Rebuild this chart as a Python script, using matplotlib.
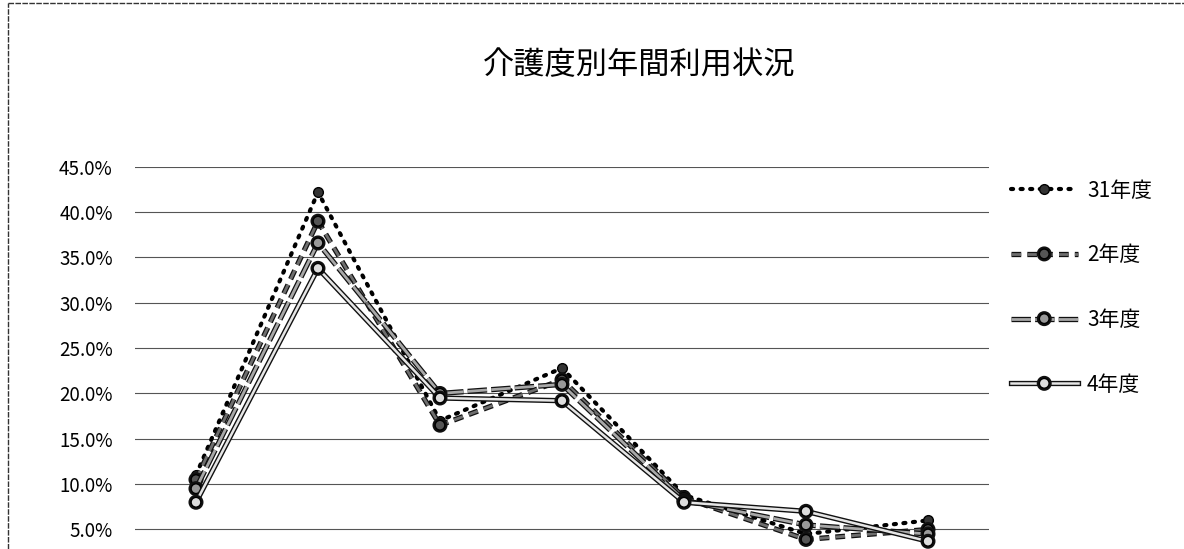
# -*- coding: utf-8 -*-
"""
介護度別年間利用状況 の折れ線グラフ
"""
import matplotlib
matplotlib.use('Agg')
import matplotlib.pyplot as plt
import matplotlib.patheffects as pe
from matplotlib.ticker import FuncFormatter

plt.rcParams['font.family'] = ['Noto Sans CJK JP', 'DejaVu Sans']

title = '介護度別年間利用状況'
categories = ['要支援1', '要支援2', '要介護1', '要介護2', '要介護3', '要介護4', '要介護5']
years = ['31年度', '2年度', '3年度', '4年度']
v31 = [11.0, 42.2, 17.0, 22.8, 8.8, 4.5, 6.0]
v2 = [10.5, 39.0, 16.5, 21.5, 8.5, 3.9, 5.0]
v3 = [9.5, 36.6, 20.0, 21.0, 8.2, 5.5, 4.5]
v4 = [8.0, 33.8, 19.5, 19.2, 8.0, 7.0, 3.7]
y_ticks = [5, 10, 15, 20, 25, 30, 35, 40, 45]

fig = plt.figure(figsize=(11.84, 5.49), dpi=100)
# 元画像は下が切れているので軸を図の外まで伸ばす（横軸ラベルは写っていない）
ax = fig.add_axes([0.114, -0.047, 0.7213, 0.7432])

x = list(range(len(categories)))
outline = [pe.Stroke(linewidth=3.8, foreground='#111111'), pe.Normal()]

ax.plot(x, v31, color='black', linestyle=(0, (0.5, 1.8)), linewidth=3.0,
        dash_capstyle='round', marker='o', markersize=7,
        markerfacecolor='#333333', markeredgecolor='black', label=years[0])
ax.plot(x, v2, color='#6e6e6e', linestyle=(0, (3.5, 2.2)), linewidth=2.0,
        marker='o', markersize=7, markerfacecolor='#555555',
        markeredgecolor='black', path_effects=outline, label=years[1])
ax.plot(x, v3, color='#a8a8a8', linestyle=(0, (7, 1.5)), linewidth=2.0,
        marker='o', markersize=7, markerfacecolor='#999999',
        markeredgecolor='black', path_effects=outline, label=years[2])
ax.plot(x, v4, color='#e6e6e6', linestyle='-', linewidth=1.8,
        marker='o', markersize=7, markerfacecolor='#dddddd',
        markeredgecolor='black', path_effects=outline, label=years[3])

ax.set_xlim(-0.5, len(categories) - 0.5)
ax.set_ylim(0, 45)
ax.set_yticks(y_ticks)
ax.yaxis.set_major_formatter(FuncFormatter(lambda v, p: f'{v:.1f}%'))
ax.set_xticks(x)
ax.tick_params(axis='x', labelbottom=False, length=0)
ax.tick_params(axis='y', length=0, labelsize=13.5, pad=16)
ax.grid(axis='y', color='#555555', linewidth=0.8)
ax.set_axisbelow(True)
for s in ax.spines.values():
    s.set_visible(False)

fig.text(0.540, 0.882, title, ha='center', va='center', fontsize=22.5)

fig.legend(loc='upper left', bbox_to_anchor=(0.845, 0.692), frameon=False,
           fontsize=15, handlelength=3.2, handletextpad=0.45,
           labelspacing=2.05, borderpad=0)

# 枠線
fig.add_artist(plt.Line2D([8 / 1184, 8 / 1184], [0, 1 - 3 / 549],
                          transform=fig.transFigure, color='#333333',
                          linewidth=1, linestyle=(0, (4, 1))))
fig.add_artist(plt.Line2D([8 / 1184, 1], [1 - 3 / 549, 1 - 3 / 549],
                          transform=fig.transFigure, color='#333333',
                          linewidth=1, linestyle=(0, (4, 1))))

plt.savefig('out.png', dpi=100)
plt.close()
